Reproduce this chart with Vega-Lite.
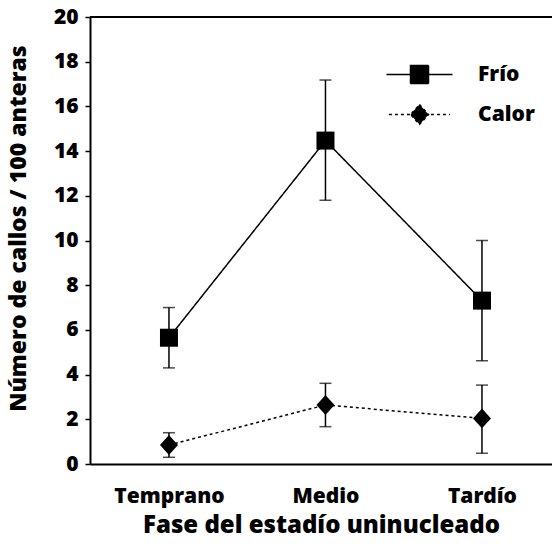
{
  "$schema": "https://vega.github.io/schema/vega-lite/v6.json",
  "width": 462,
  "height": 447,
  "autosize": {"type": "none"},
  "padding": {"left": 90, "top": 17, "right": 0, "bottom": 87},
  "background": "white",
  "config": {"view": {"stroke": null}, "font": "Open Sans"},
  "data": {
    "values": [
      {"fase": "Temprano", "serie": "Frío", "valor": 5.65, "min": 4.3, "max": 7.0},
      {"fase": "Medio", "serie": "Frío", "valor": 14.47, "min": 11.8, "max": 17.18},
      {"fase": "Tardío", "serie": "Frío", "valor": 7.31, "min": 4.62, "max": 10.0},
      {"fase": "Temprano", "serie": "Calor", "valor": 0.85, "min": 0.3, "max": 1.4},
      {"fase": "Medio", "serie": "Calor", "valor": 2.64, "min": 1.67, "max": 3.61},
      {"fase": "Tardío", "serie": "Calor", "valor": 2.04, "min": 0.48, "max": 3.53}
    ]
  },
  "layer": [
    {
      "data": {"values": [{"top": 20}]},
      "mark": {"type": "rule", "color": "black", "strokeWidth": 2},
      "encoding": {
        "y": {"field": "top", "type": "quantitative", "scale": {"domain": [0, 20], "nice": false},
          "axis": {
            "title": "Número de callos / 100 anteras",
            "values": [0, 2, 4, 6, 8, 10, 12, 14, 16, 18, 20],
            "grid": false,
            "tickSize": 5, "tickWidth": 1.5, "tickColor": "black",
            "domainColor": "black", "domainWidth": 2,
            "labelFont": "Open Sans", "labelFontSize": 21, "labelFontWeight": 800, "labelColor": "black", "labelPadding": 7,
            "titleFont": "Open Sans", "titleFontSize": 23, "titleFontWeight": 800, "titleColor": "black",
            "titleAngle": -90, "titleBaseline": "alphabetic", "titleAlign": "center", "titleX": -65, "titleY": 211
          }
        }
      }
    },
    {
      "mark": {"type": "rule", "color": "black", "strokeWidth": 1.5},
      "encoding": {
        "x": {"field": "fase", "type": "ordinal", "sort": ["Temprano", "Medio", "Tardío"],
          "scale": {"type": "point", "padding": 0.476, "align": 0.53},
          "axis": {
            "title": "Fase del estadío uninucleado",
            "labelAngle": 0, "ticks": false,
            "domainColor": "black", "domainWidth": 2,
            "labelFont": "Open Sans", "labelFontSize": 21, "labelFontWeight": 800, "labelColor": "black", "labelPadding": 21,
            "titleFont": "Open Sans", "titleFontSize": 24, "titleFontWeight": 800, "titleColor": "black", "titlePadding": 7
          }
        },
        "y": {"field": "min", "type": "quantitative", "scale": {"domain": [0, 20], "nice": false}},
        "y2": {"field": "max"}
      }
    },
    {
      "mark": {"type": "tick", "color": "black", "size": 12, "thickness": 1.5, "orient": "horizontal"},
      "encoding": {
        "x": {"field": "fase", "type": "ordinal", "sort": ["Temprano", "Medio", "Tardío"]},
        "y": {"field": "min", "type": "quantitative", "scale": {"domain": [0, 20], "nice": false}}
      }
    },
    {
      "mark": {"type": "tick", "color": "black", "size": 12, "thickness": 1.5, "orient": "horizontal"},
      "encoding": {
        "x": {"field": "fase", "type": "ordinal", "sort": ["Temprano", "Medio", "Tardío"]},
        "y": {"field": "max", "type": "quantitative", "scale": {"domain": [0, 20], "nice": false}}
      }
    },
    {
      "mark": {"type": "line", "color": "black", "strokeWidth": 1.5},
      "encoding": {
        "x": {"field": "fase", "type": "ordinal", "sort": ["Temprano", "Medio", "Tardío"]},
        "y": {"field": "valor", "type": "quantitative", "scale": {"domain": [0, 20], "nice": false}},
        "strokeDash": {
          "field": "serie", "type": "nominal",
          "scale": {"domain": ["Frío", "Calor"], "range": [[1, 0], [3, 3]]},
          "legend": {
            "orient": "none", "legendX": 319, "legendY": 47,
            "title": null, "padding": 0,
            "symbolType": {"expr": "datum.value === 'Frío' ? 'M-3.67,0L3.67,0M-1,-1L1,-1L1,1L-1,1Z' : 'M-3.4,0L3.4,0M0,-1.1L1,0L0,1.1L-1,0Z'"},
            "symbolSize": 324, "symbolStrokeWidth": 1.5, "symbolStrokeColor": "black", "symbolFillColor": "black", "symbolOpacity": 1,
            "labelFont": "Open Sans", "labelFontSize": 21, "labelFontWeight": 800, "labelColor": "black",
            "labelOffset": 48, "rowPadding": 14
          }
        }
      }
    },
    {
      "transform": [{"filter": "datum.serie === 'Frío'"}],
      "mark": {"type": "point", "filled": true, "color": "black", "size": 324, "opacity": 1, "shape": "square"},
      "encoding": {
        "x": {"field": "fase", "type": "ordinal", "sort": ["Temprano", "Medio", "Tardío"]},
        "y": {"field": "valor", "type": "quantitative", "scale": {"domain": [0, 20], "nice": false}}
      }
    },
    {
      "transform": [{"filter": "datum.serie === 'Calor'"}],
      "mark": {"type": "point", "filled": true, "color": "black", "size": 324, "opacity": 1, "shape": "M0,-1.1L1,0L0,1.1L-1,0Z"},
      "encoding": {
        "x": {"field": "fase", "type": "ordinal", "sort": ["Temprano", "Medio", "Tardío"]},
        "y": {"field": "valor", "type": "quantitative", "scale": {"domain": [0, 20], "nice": false}}
      }
    }
  ]
}
